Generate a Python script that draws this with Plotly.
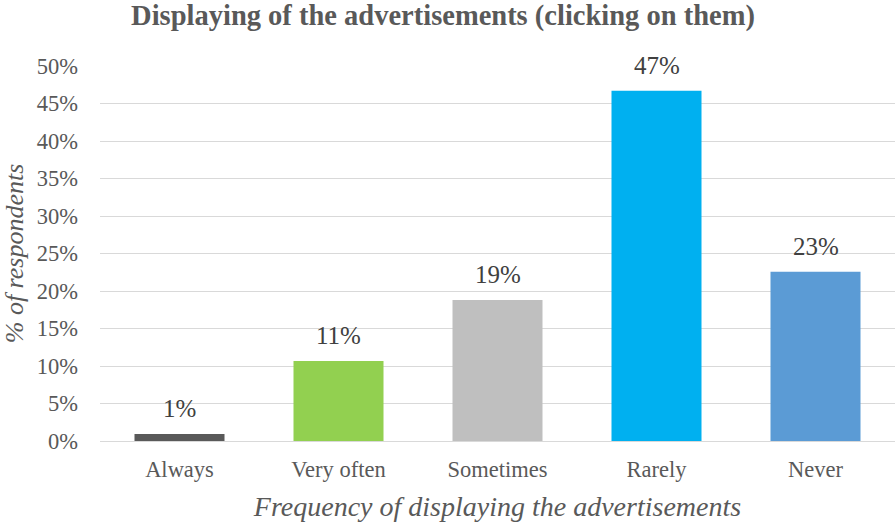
import plotly.graph_objects as go

# Survey results: how often respondents click on displayed advertisements
categories = ["Always", "Very often", "Sometimes", "Rarely", "Never"]
shares = [0.0094, 0.1068, 0.188, 0.467, 0.2256]
bar_colors = ["#595959", "#92D050", "#BFBFBF", "#00B0F0", "#5B9BD5"]
y_ticks = [0, 0.05, 0.10, 0.15, 0.20, 0.25, 0.30, 0.35, 0.40, 0.45, 0.50]

text_color = "#595959"
serif = "Liberation Serif, Times New Roman, serif"

fig = go.Figure(
    go.Bar(
        x=categories,
        y=shares,
        marker=dict(color=bar_colors, line=dict(width=0)),
        width=0.566,
        hoverinfo="skip",
    )
)

# Value labels above each bar
for cat, val in zip(categories, shares):
    fig.add_annotation(
        x=cat, y=val, text=f"{val:.0%}", showarrow=False,
        yanchor="bottom", yshift=10,
        font=dict(family=serif, size=25, color="#404040"),
    )

fig.update_layout(
    width=895, height=522,
    margin=dict(l=100, r=0, t=66, b=81),
    paper_bgcolor="white", plot_bgcolor="white",
    showlegend=False,
    font=dict(family=serif, color=text_color, size=22),
    title=dict(
        text="<b>Displaying of the advertisements (clicking on them)</b>",
        x=0.495, xanchor="center", xref="container",
        y=0.99, yanchor="top", yref="container",
        font=dict(family=serif, size=28.5, color=text_color),
    ),
)

fig.update_xaxes(
    showgrid=False, showline=False, ticks="", automargin=False,
    ticklabelstandoff=12,
    tickfont=dict(family=serif, size=22.5, color=text_color),
    title=dict(text="<i>Frequency of displaying the advertisements</i>",
               font=dict(family=serif, size=28, color=text_color), standoff=15),
)

fig.update_yaxes(
    range=[0, 0.5], tickvals=y_ticks, tickformat=".0%",
    showgrid=True, gridcolor="#D9D9D9", gridwidth=1.3,
    zeroline=True, zerolinecolor="#D9D9D9", zerolinewidth=1.3,
    showline=False, ticks="", automargin=False,
    ticklabelstandoff=21,
    tickfont=dict(family=serif, size=22.5, color=text_color),
    title=dict(text="<i>% of respondents</i>",
               font=dict(family=serif, size=26, color=text_color), standoff=6),
)

fig.write_html("out.html")
